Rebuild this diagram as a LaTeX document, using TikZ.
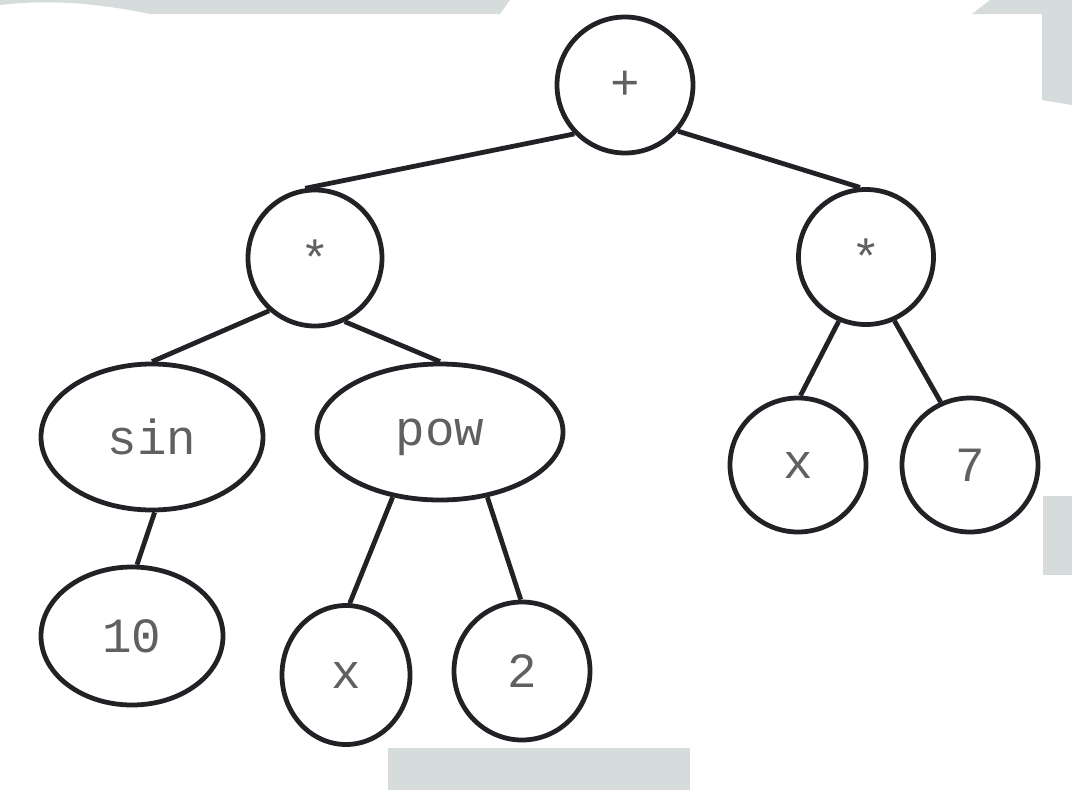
\documentclass[tikz,border=0pt]{standalone}
\usepackage{fontspec}
\setmonofont{Liberation Mono}
\usetikzlibrary{shapes.geometric}

\definecolor{wmgray}{RGB}{214,219,219}
\definecolor{ink}{RGB}{34,34,38}
\tikzset{tnode/.style={ellipse, draw=ink, line width=3.4pt, inner sep=0pt,
    text=ink!72, font=\ttfamily\fontsize{35}{35}\selectfont},
  tedge/.style={draw=ink, line width=3.4pt}}

\begin{document}
\begin{tikzpicture}[x=0.025cm, y=-0.025cm]
        \useasboundingbox (0,0) rectangle (1072,790);
        % grey bits behind the page
        \fill[wmgray] (0,5) .. controls (60,-2) and (110,6) .. (150,14) -- (500,14) -- (510,0) -- (0,0) -- cycle;
        \fill[wmgray] (990,0) -- (1072,0) -- (1072,105) -- (1042,100) -- (1042,14) -- (972,14) -- cycle;
        \fill[wmgray] (1043,496) rectangle (1072,575);
        \fill[wmgray] (388,748) rectangle (690,790);
        % nodes
        \node[tnode, minimum width=136*0.025cm, minimum height=136*0.025cm] (plus) at (625,85) {+};
        \node[tnode, minimum width=134*0.025cm, minimum height=136*0.025cm] (lmul) at (315,258) {*};
        \node[tnode, minimum width=135*0.025cm, minimum height=135*0.025cm] (rmul) at (866,257) {*};
        \node[tnode, minimum width=222*0.025cm, minimum height=146*0.025cm] (sin) at (152,437) {sin};
        \node[tnode, minimum width=246*0.025cm, minimum height=136*0.025cm, text depth=0pt] (pow) at (440,432) {pow};
        \node[tnode, minimum width=136*0.025cm, minimum height=134*0.025cm] (xb) at (798,465) {x};
        \node[tnode, minimum width=136*0.025cm, minimum height=134*0.025cm] (seven) at (970,465) {7};
        \node[tnode, minimum width=182*0.025cm, minimum height=138*0.025cm] (ten) at (132,636) {10};
        \node[tnode, minimum width=128*0.025cm, minimum height=139*0.025cm] (xa) at (346,675) {x};
        \node[tnode, minimum width=136*0.025cm, minimum height=138*0.025cm] (two) at (522,671) {2};
        % edges
        \draw[tedge] (plus.224) -- (lmul.98);
        \draw[tedge] (plus.319) -- (rmul.95);
        \draw[tedge] (lmul.229) -- (sin.90);
        \draw[tedge] (lmul.295) -- (pow.90);
        \draw[tedge] (sin.272) -- (ten.86);
        \draw[tedge] (pow.234) -- (xa.87);
        \draw[tedge] (pow.306) -- (two.91);
        \draw[tedge] (rmul.247) -- (xb.88);
        \draw[tedge] (rmul.294) -- (seven.115);
    \end{tikzpicture}
\end{document}
